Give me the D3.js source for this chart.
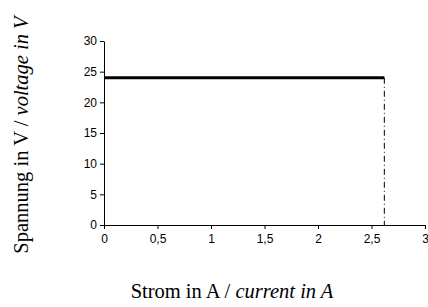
<!DOCTYPE html>
<html>
<head>
<meta charset="utf-8">
<script src="https://cdn.jsdelivr.net/npm/d3@7"></script>
<style>
  body { margin: 0; background: #fff; }
  .tick text { font-family: "Liberation Sans", Arial, sans-serif; font-size: 12px; fill: #000; }
  .domain, .tick line { stroke: #000; }
  .lbl { font-family: "Liberation Serif", "Times New Roman", serif; font-size: 20.5px; fill: #000; }
</style>
</head>
<body>
<div id="chart"></div>
<script>
  var xTicks = [0, 0.5, 1, 1.5, 2, 2.5, 3];
  var yTicks = [0, 5, 10, 15, 20, 25, 30];
  var current = [0, 2.62];
  var voltage = [24, 24];

  var W = 428, H = 307;
  var margin = {top: 41, right: 3, bottom: 82, left: 104};
  var width = W - margin.left - margin.right,
      height = H - margin.top - margin.bottom;

  var svg = d3.select('#chart').append('svg')
      .attr('width', W).attr('height', H);

  var g = svg.append('g')
      .attr('transform', 'translate(' + margin.left + ',' + margin.top + ')');

  var x = d3.scaleLinear().domain([0, 3]).range([0, width]);
  var y = d3.scaleLinear().domain([0, 30]).range([height, 0]);

  var fmt = function (d) { return String(d).replace('.', ','); };

  g.append('g')
    .attr('transform', 'translate(0,' + height + ')')
    .call(d3.axisBottom(x).tickValues(xTicks).tickFormat(fmt).tickSize(4).tickSizeOuter(0).tickPadding(5));

  g.append('g')
    .call(d3.axisLeft(y).tickValues(yTicks).tickSize(4).tickSizeOuter(0).tickPadding(3));

  var pts = current.map(function (c, i) { return [c, voltage[i]]; });

  // dash-dot drop line at the end point
  var last = pts[pts.length - 1];
  g.append('line')
    .attr('x1', x(last[0])).attr('x2', x(last[0]))
    .attr('y1', y(last[1])).attr('y2', y(0))
    .attr('stroke', '#000').attr('stroke-width', 1)
    .attr('stroke-dasharray', '6,3,1,3');

  g.append('path')
    .datum(pts)
    .attr('fill', 'none')
    .attr('stroke', '#000')
    .attr('stroke-width', 3)
    .attr('d', d3.line().x(function (d) { return x(d[0]); }).y(function (d) { return y(d[1]); }));

  var xl = svg.append('text').attr('class', 'lbl')
    .attr('x', 232).attr('y', 298).attr('text-anchor', 'middle');
  xl.append('tspan').text('Strom in A / ');
  xl.append('tspan').attr('font-style', 'italic').text('current in A');

  var yl = svg.append('text').attr('class', 'lbl')
    .attr('transform', 'translate(28,135) rotate(-90)')
    .attr('text-anchor', 'middle');
  yl.append('tspan').text('Spannung in V / ');
  yl.append('tspan').attr('font-style', 'italic').text('voltage in V');
</script>
</body>
</html>
